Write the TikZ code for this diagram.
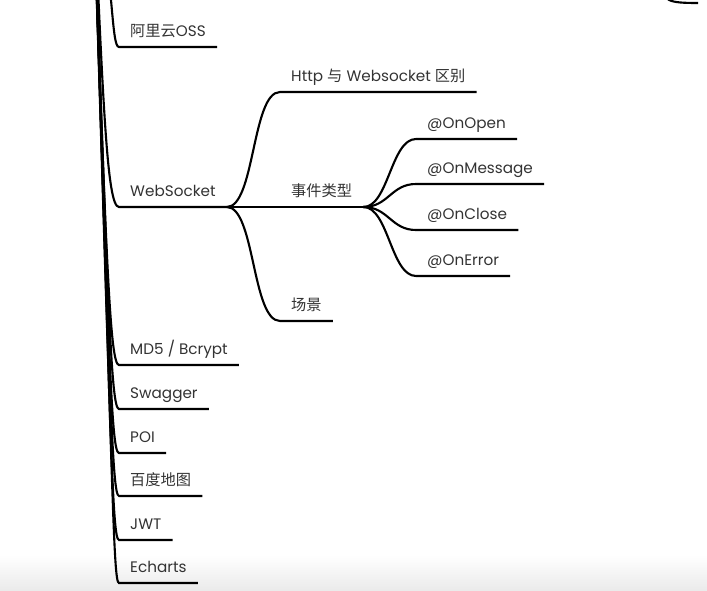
\documentclass[tikz,border=0pt]{standalone}
\usepackage{fontspec}
\setmainfont{Poppins}
\newfontfamily\cjk{Noto Sans CJK SC}
\begin{document}
\begin{tikzpicture}[x=0.03cm, y=-0.03cm]
    \tikzstyle{topic} = [anchor=south west, inner xsep=0.33cm, inner ysep=0.3cm, text depth=0pt, text=black!80, font=\fontsize{13}{15}\selectfont]
    \tikzstyle{branch} = [line width=1.8pt, black]

    \useasboundingbox (0,0) rectangle (707,590);
    \clip (0,0) rectangle (707,590);
    \shade [top color=white, bottom color=black!8] (0,555) rectangle (707,590);

    % the root sits above the visible part
    \coordinate (root) at (92,-150);

    % first level
    \node [topic] (oss) at (119,47) {{\cjk 阿里云}OSS};
    \node [topic] (ws) at (119,207) {WebSocket};
    \node [topic] (md5) at (119,365) {MD5 / Bcrypt};
    \node [topic] (swagger) at (119,409) {Swagger};
    \node [topic] (poi) at (119,453) {POI};
    \node [topic] (baidu) at (119,496) {\cjk 百度地图};
    \node [topic] (jwt) at (119,540) {JWT};
    \node [topic] (echarts) at (119,583) {Echarts};

    % websocket children
    \node [topic] (http) at (280,92) {Http {\cjk 与} Websocket {\cjk 区别}};
    \node [topic] (event) at (280,207) {\cjk 事件类型};
    \node [topic] (scene) at (280,321) {\cjk 场景};

    % event types
    \node [topic] (open) at (416,139) {@OnOpen};
    \node [topic] (message) at (416,184) {@OnMessage};
    \node [topic] (close) at (416,230) {@OnClose};
    \node [topic] (error) at (416,276) {@OnError};

    % trunk
    \draw [branch] (root) .. controls (114,-20) and +(-8,0) .. (oss.south west) -- (oss.south east);
    \draw [branch] (root) .. controls (103,107) and +(-12,0) .. (ws.south west) -- (ws.south east);
    \draw [branch] (root) .. controls (106,265) and +(-9,0) .. (md5.south west) -- (md5.south east);
    \draw [branch] (root) .. controls (108,309) and +(-8,0) .. (swagger.south west) -- (swagger.south east);
    \draw [branch] (root) .. controls (109,353) and +(-8,0) .. (poi.south west) -- (poi.south east);
    \draw [branch] (root) .. controls (110,396) and +(-7,0) .. (baidu.south west) -- (baidu.south east);
    \draw [branch] (root) .. controls (111,440) and +(-7,0) .. (jwt.south west) -- (jwt.south east);
    \draw [branch] (root) .. controls (113,483) and +(-6,0) .. (echarts.south west) -- (echarts.south east);

    % websocket
    \draw [branch] (ws.south east) .. controls +(28,0) and +(-28,0) .. (http.south west) -- (http.south east);
    \draw [branch] (ws.south east) -- (event.south west) -- (event.south east);
    \draw [branch] (ws.south east) .. controls +(28,0) and +(-28,0) .. (scene.south west) -- (scene.south east);

    % events
    \draw [branch] (event.south east) .. controls +(25,0) and +(-25,0) .. (open.south west) -- (open.south east);
    \draw [branch] (event.south east) .. controls +(25,0) and +(-25,0) .. (message.south west) -- (message.south east);
    \draw [branch] (event.south east) .. controls +(25,0) and +(-25,0) .. (close.south west) -- (close.south east);
    \draw [branch] (event.south east) .. controls +(25,0) and +(-25,0) .. (error.south west) -- (error.south east);

    % a branch cut off at the top right
    \coordinate (hidden) at (662,-15);
    \coordinate (hiddenend) at (698,3);
    \draw [branch] (hidden) .. controls +(1,16) and +(-30,0) .. (hiddenend);
\end{tikzpicture}
\end{document}
